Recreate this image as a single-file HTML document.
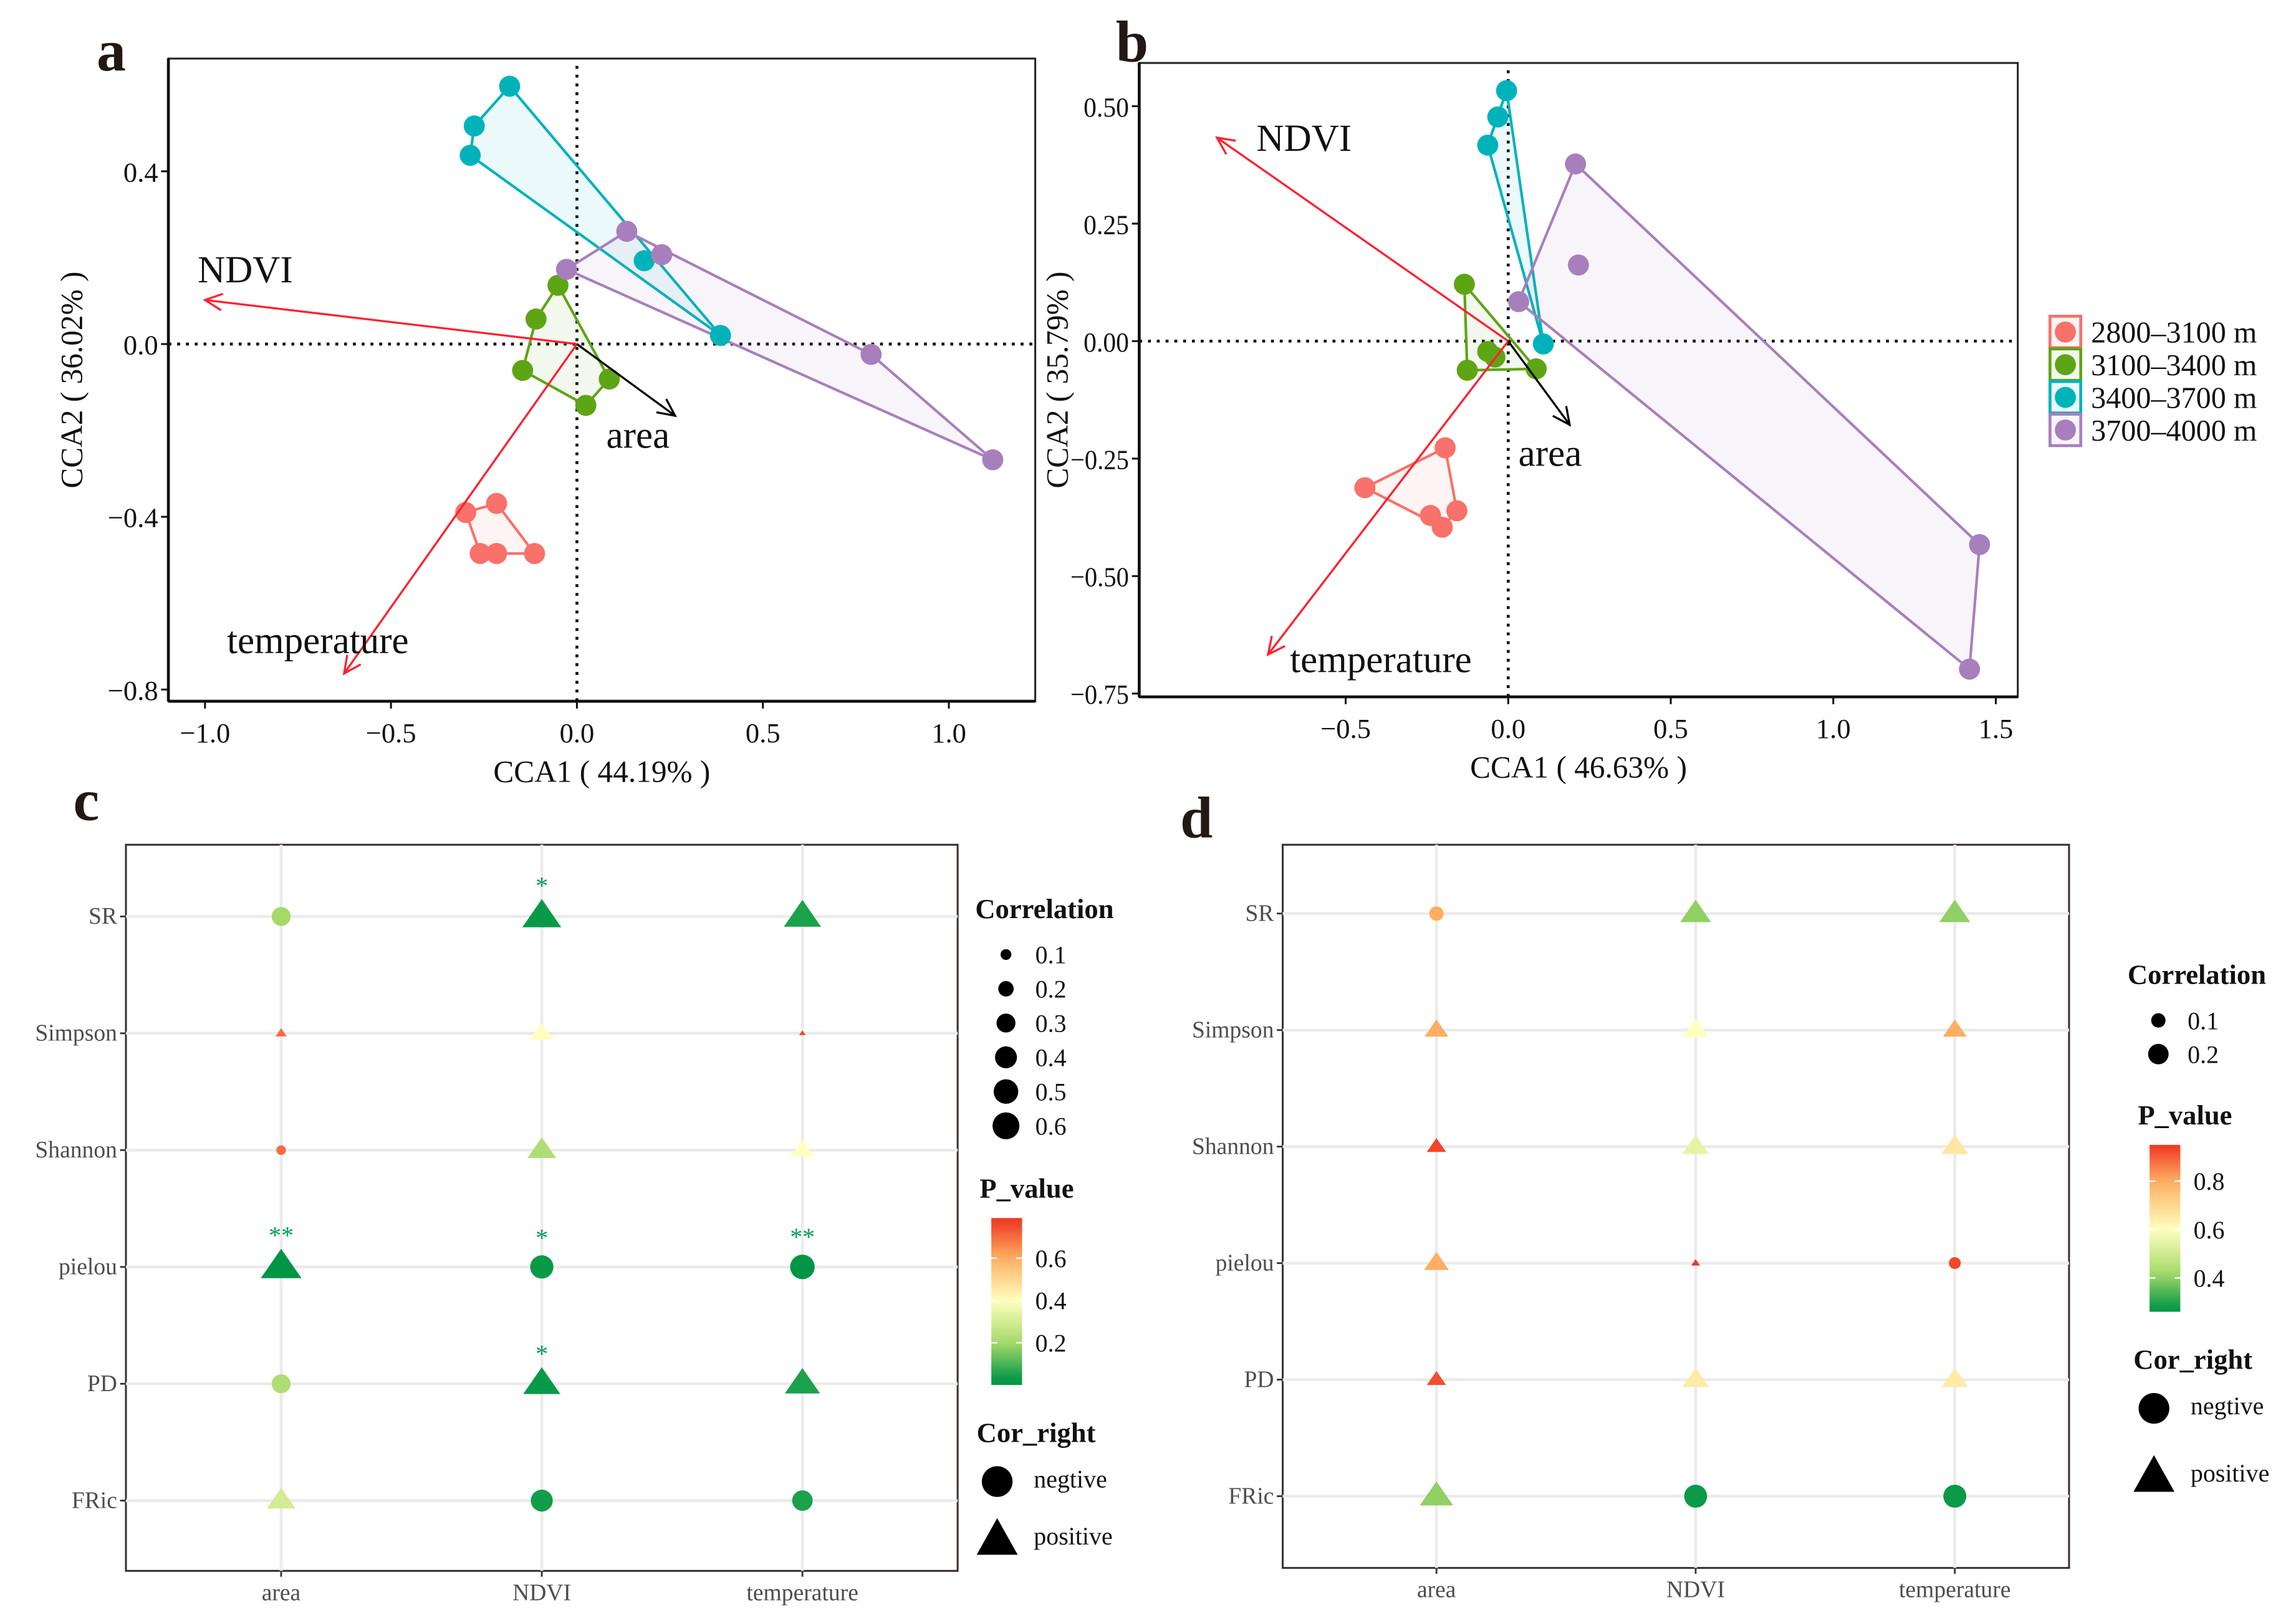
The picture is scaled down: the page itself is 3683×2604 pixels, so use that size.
<!DOCTYPE html>
<html><head><meta charset="utf-8"><style>
html,body{margin:0;padding:0;background:#fff;}
svg{display:block;}
text{font-family:"Liberation Serif",serif;}
</style></head><body>
<svg id="fig" width="3683" height="2604" viewBox="0 0 1568 1108.6" xmlns="http://www.w3.org/2000/svg">
<rect width="1568" height="1108.6" fill="#fff"/>
<g id="layer"></g>
</svg>
<script>
// ---------- Panel a data ----------
const groups = ["2800–3100 m","3100–3400 m","3400–3700 m","3700–4000 m"];
const groupColors = ["#f8716a","#5ea516","#00b3bb","#a87fbd"];
const aRedX = [-0.299,-0.216,-0.260,-0.216,-0.114];
const aRedY = [-0.390,-0.369,-0.485,-0.485,-0.485];
const aGreenX = [-0.051,-0.110,-0.146,0.087,0.024];
const aGreenY = [0.136,0.058,-0.061,-0.081,-0.142];
const aCyanX = [-0.181,-0.276,-0.287,0.181,0.386];
const aCyanY = [0.597,0.505,0.437,0.193,0.020];
const aPurpleX = [-0.028,0.134,0.228,0.791,1.118];
const aPurpleY = [0.173,0.261,0.207,-0.024,-0.268];
const aArrowNames = ["NDVI","temperature","area"];
const aArrowX = [-1.0,-0.626,0.264];
const aArrowY = [0.102,-0.763,-0.166];
const aXTicks = [-1.0,-0.5,0.0,0.5,1.0];
const aXTickLabels = ["−1.0","−0.5","0.0","0.5","1.0"];
const aYTicks = [0.4,0.0,-0.4,-0.8];
const aYTickLabels = ["0.4","0.0","−0.4","−0.8"];
// ---------- Panel b data ----------
const bRedX = [-0.441,-0.194,-0.239,-0.203,-0.158];
const bRedY = [-0.312,-0.227,-0.371,-0.396,-0.361];
const bGreenX = [-0.135,-0.063,-0.041,-0.126,0.086];
const bGreenY = [0.121,-0.022,-0.034,-0.062,-0.059];
const bCyanX = [-0.005,-0.032,-0.063,0.108];
const bCyanY = [0.533,0.477,0.417,-0.006];
const bPurpleX = [0.207,0.216,0.032,1.45,1.419];
const bPurpleY = [0.377,0.162,0.084,-0.433,-0.698];
const bArrowNames = ["NDVI","temperature","area"];
const bArrowX = [-0.896,-0.739,0.189];
const bArrowY = [0.433,-0.667,-0.178];
const bXTicks = [-0.5,0.0,0.5,1.0,1.5];
const bXTickLabels = ["−0.5","0.0","0.5","1.0","1.5"];
const bYTicks = [0.5,0.25,0,-0.25,-0.5,-0.75];
const bYTickLabels = ["0.50","0.25","0.00","−0.25","−0.50","−0.75"];
// ---------- Panel c/d data ----------
const indices = ["SR","Simpson","Shannon","pielou","PD","FRic"];
const envVars = ["area","NDVI","temperature"];
const cCorr = [[0.30,0.55,0.50],[0.05,0.20,0.02],[0.08,0.30,0.20],[0.60,0.45,0.50],[0.30,0.50,0.45],[0.30,0.40,0.35]];
const cP = [[0.20,0.03,0.05],[0.70,0.40,0.76],[0.70,0.22,0.40],[0.005,0.03,0.008],[0.22,0.03,0.05],[0.30,0.04,0.05]];
const cSign = [[-1,1,1],[1,1,1],[-1,1,1],[1,-1,-1],[-1,1,1],[1,-1,-1]];
const cStars = [["","*",""],["","",""],["","",""],["**","*","**"],["","*",""],["","",""]];
const dCorr = [[0.10,0.20,0.20],[0.12,0.15,0.12],[0.08,0.15,0.15],[0.13,0.02,0.07],[0.08,0.15,0.15],[0.23,0.25,0.25]];
const dP = [[0.80,0.40,0.40],[0.80,0.60,0.80],[0.93,0.55,0.66],[0.80,0.95,0.93],[0.92,0.65,0.65],[0.40,0.28,0.28]];
const dSign = [[-1,1,1],[1,1,1],[1,1,1],[1,1,-1],[1,1,1],[1,-1,-1]];
const cSizeTicks = [0.1,0.2,0.3,0.4,0.5,0.6];
const dSizeTicks = [0.1,0.2];
const cPTicks = [0.6,0.4,0.2];
const dPTicks = [0.8,0.6,0.4];

const NS="http://www.w3.org/2000/svg";
const layer=document.getElementById('layer');
function el(tag,attrs,parent,txt){const e=document.createElementNS(NS,tag);for(const k in attrs)e.setAttribute(k,attrs[k]);if(txt!==undefined)e.textContent=txt;(parent||layer).appendChild(e);return e;}
function lin(d0,d1,r0,r1){return v=>r0+(v-d0)*(r1-r0)/(d1-d0);}
function hull(pts){pts=pts.slice().sort((a,b)=>a[0]-b[0]||a[1]-b[1]);const cr=(o,a,b)=>(a[0]-o[0])*(b[1]-o[1])-(a[1]-o[1])*(b[0]-o[0]);const lo=[],up=[];for(const p of pts){while(lo.length>=2&&cr(lo[lo.length-2],lo[lo.length-1],p)<=0)lo.pop();lo.push(p);}for(const p of pts.slice().reverse()){while(up.length>=2&&cr(up[up.length-2],up[up.length-1],p)<=0)up.pop();up.push(p);}return lo.slice(0,-1).concat(up.slice(0,-1));}
function arrowHead(g,x1,y1,x2,y2,color){const a=Math.atan2(y2-y1,x2-x1),L=13,s=0.45;const p1=[x2-L*Math.cos(a-s),y2-L*Math.sin(a-s)],p2=[x2-L*Math.cos(a+s),y2-L*Math.sin(a+s)];const h=el('polyline',{points:`${p1} ${x2},${y2} ${p2}`,fill:'none',stroke:color,'stroke-width':1.4},g);}

function ccaPanel(cfg){
  const g=el('g',{});
  const sx=lin(0,1,cfg.x0,cfg.x0+cfg.kx), sy=lin(0,1,cfg.y0,cfg.y0-cfg.ky);
  const box=el('rect',{x:cfg.L,y:cfg.T,width:cfg.R-cfg.L,height:cfg.B-cfg.T,fill:'none',stroke:'#222','stroke-width':1.3},g);
  
  el('line',{x1:cfg.L,x2:cfg.R,y1:cfg.B,y2:cfg.B,stroke:'#111','stroke-width':2},g);
  el('line',{x1:cfg.L,x2:cfg.L,y1:cfg.T,y2:cfg.B,stroke:'#111','stroke-width':2},g);
  const z1=el('line',{x1:cfg.L,x2:cfg.R,y1:sy(0),y2:sy(0),stroke:'#111','stroke-width':2,'stroke-dasharray':'2 4'},g);
  
  const z2=el('line',{x1:sx(0),x2:sx(0),y1:cfg.T+5,y2:cfg.B,stroke:'#111','stroke-width':2,'stroke-dasharray':'2 4'},g);
  
  cfg.xt.forEach((v,i)=>{el('line',{x1:sx(v),x2:sx(v),y1:cfg.B,y2:cfg.B+5,stroke:'#111','stroke-width':1.3},g);
    const t=el('text',{x:sx(v),y:cfg.B+28,'font-size':19,'text-anchor':'middle',fill:'#111'},g,cfg.xl[i]);});
  cfg.yt.forEach((v,i)=>{el('line',{x1:cfg.L-5,x2:cfg.L,y1:sy(v),y2:sy(v),stroke:'#111','stroke-width':1.3},g);
    const t=el('text',{x:cfg.L-7,y:sy(v)+7,'font-size':19,'text-anchor':'end',fill:'#111'},g,cfg.yl[i]);
    if(cfg.ytl){t.setAttribute('textLength',cfg.ytl(cfg.yl[i]));t.setAttribute('lengthAdjust','spacingAndGlyphs');}
    });
  const xt=el('text',{x:(cfg.L+cfg.R)/2,y:cfg.B+55,'font-size':21,'text-anchor':'middle',fill:'#111'},g,cfg.xtitle);
  const yt=el('text',{x:0,y:0,'font-size':21,'text-anchor':'middle',fill:'#111',transform:`translate(${cfg.ytx},${(cfg.T+cfg.B)/2}) rotate(-90)`},g,cfg.ytitle);
  const lt=el('text',{x:cfg.letter[1],y:cfg.letter[2],'font-size':40,'font-weight':'bold',fill:'#231815'},g,cfg.letter[0]);
  cfg.groups.forEach((gr,gi)=>{
    const pts=gr[0].map((x,i)=>[sx(x),sy(gr[1][i])]);
    const h=hull(pts);
    const poly=el('polygon',{points:h.map(p=>p.join(',')).join(' '),fill:groupColors[gi],'fill-opacity':0.08,stroke:groupColors[gi],'stroke-width':1.8},g);
    
  });
  cfg.groups.forEach((gr,gi)=>{
    gr[0].forEach((x,i)=>{const c=el('circle',{cx:sx(x),cy:sy(gr[1][i]),r:7.2,fill:groupColors[gi]},g);
      });
  });
  cfg.arrows.forEach((a,i)=>{
    const col=a[0]==='area'?'#000':'#ff2030';
    const x1=sx(0),y1=sy(0),x2=sx(a[1]),y2=sy(a[2]);
    const ln=el('line',{x1,y1,x2,y2,stroke:col,'stroke-width':1.4},g);
    arrowHead(g,x1,y1,x2,y2,col);
    const lab=el('text',{x:x2+cfg.lab[i][0],y:y2+cfg.lab[i][1],'font-size':26,fill:'#111'},g,a[0]);
    
  });
}
ccaPanel({name:'panel-a',L:115,R:707,T:40,B:479,x0:394,kx:254,y0:235,ky:295,xt:aXTicks,xl:aXTickLabels,yt:aYTicks,yl:aYTickLabels,
  xtitle:'CCA1 ( 44.19% )',ytitle:'CCA2 ( 36.02% )',ytx:56,letter:['a',66,48],
  groups:[[aRedX,aRedY],[aGreenX,aGreenY],[aCyanX,aCyanY],[aPurpleX,aPurpleY]],
  arrows:aArrowNames.map((n,i)=>[n,aArrowX[i],aArrowY[i]]),lab:[[-5,-12],[-80,-14],[-47,22]]});
ccaPanel({name:'panel-b',L:778,R:1378,T:43,B:476,x0:1030,kx:222,y0:233,ky:321,xt:bXTicks,xl:bXTickLabels,yt:bYTicks,yl:bYTickLabels,
  ytl:s=>s.length>4?40:31,
  xtitle:'CCA1 ( 46.63% )',ytitle:'CCA2 ( 35.79% )',ytx:729,letter:['b',762,42],
  groups:[[bRedX,bRedY],[bGreenX,bGreenY],[bCyanX,bCyanY],[bPurpleX,bPurpleY]],
  arrows:bArrowNames.map((n,i)=>[n,bArrowX[i],bArrowY[i]]),lab:[[27,9],[15,12],[-35,28]]});
(function(){const g=el('g',{});
  groups.forEach((n,i)=>{const y=216+i*22.3;
    el('rect',{x:1400,y:y,width:21,height:21.5,fill:groupColors[i],'fill-opacity':0.08,stroke:groupColors[i],'stroke-width':2},g);
    const c=el('circle',{cx:1410.5,cy:y+10.8,r:7.2,fill:groupColors[i]},g);
    const t=el('text',{x:1428,y:y+18,'font-size':20.5,fill:'#111'},g,n);});
})();

// ---------- correlation panels ----------
const palette=[[0,150,70],[166,217,106],[255,255,191],[253,174,97],[240,55,35]];
function pColorStops(stops){
  return p=>{if(p<=stops[0])return `rgb(${palette[0]})`;
    for(let i=1;i<stops.length;i++){if(p<=stops[i]){const t=(p-stops[i-1])/(stops[i]-stops[i-1]);const a=palette[i-1],b=palette[i];return `rgb(${a.map((v,k)=>Math.round(v+(b[k]-v)*t)).join(',')})`;}}
    return `rgb(${palette[4]})`;};
}
function marker(g,x,y,r,sign,fill){
  if(sign<0){return el('circle',{cx:x,cy:y,r:r,fill:fill},g);}
  const s=r*1.35;return el('polygon',{points:`${x},${y-s} ${x-s*1.12},${y+s*0.62} ${x+s*1.12},${y+s*0.62}`,fill:fill},g);
}
function corrPanel(cfg){
  const g=el('g',{});
  const rr=v=>Math.sqrt(cfg.rmin*cfg.rmin+(cfg.rmax*cfg.rmax-cfg.rmin*cfg.rmin)*Math.max(0,(v-cfg.vmin)/(cfg.vmax-cfg.vmin)));
  const pc=pColorStops(cfg.stops);
  const colX=i=>cfg.cx0+i*cfg.cdx, rowY=i=>cfg.ry0+i*cfg.rdy;
  el('rect',{x:cfg.L,y:cfg.T,width:cfg.R-cfg.L,height:cfg.B-cfg.T,fill:'#fff',stroke:'#3a3030','stroke-width':1.3},g);
  envVars.forEach((v,i)=>{el('line',{x1:colX(i),x2:colX(i),y1:cfg.T,y2:cfg.B,stroke:'#ebebeb','stroke-width':2},g);
    el('line',{x1:colX(i),x2:colX(i),y1:cfg.B,y2:cfg.B+4,stroke:'#333','stroke-width':1.2},g);
    const t=el('text',{x:colX(i),y:cfg.B+20,'font-size':16,'text-anchor':'middle',fill:'#4d4d4d'},g,v);});
  indices.forEach((v,i)=>{el('line',{x1:cfg.L,x2:cfg.R,y1:rowY(i),y2:rowY(i),stroke:'#ebebeb','stroke-width':2},g);
    el('line',{x1:cfg.L-4,x2:cfg.L,y1:rowY(i),y2:rowY(i),stroke:'#333','stroke-width':1.2},g);
    const t=el('text',{x:cfg.L-6,y:rowY(i)+5,'font-size':16,'text-anchor':'end',fill:'#4d4d4d'},g,v);});
  indices.forEach((ix,i)=>envVars.forEach((ev,j)=>{
    const m=marker(g,colX(j),rowY(i),rr(cfg.corr[i][j]),cfg.sign[i][j],pc(cfg.p[i][j]));
    
    if(cfg.stars&&cfg.stars[i][j]){const s=el('text',{x:colX(j),y:rowY(i)-rr(cfg.corr[i][j])*1.4-3,'font-size':17,'text-anchor':'middle',fill:'#00a050'},g,cfg.stars[i][j]);}
  }));
  const lt=el('text',{x:cfg.letter[1],y:cfg.letter[2],'font-size':40,'font-weight':'bold',fill:'#231815'},g,cfg.letter[0]);
  const lg=el('g',{},g);
  el('text',{x:cfg.lx,y:cfg.ly,'font-size':19,'font-weight':'bold',fill:'#111'},lg,'Correlation');
  cfg.sizeTicks.forEach((v,i)=>{const y=cfg.ly+25+i*cfg.sdy;el('circle',{cx:cfg.lx+21,cy:y,r:rr(v),fill:'#000'},lg);
    const t=el('text',{x:cfg.lx+41,y:y+6,'font-size':17,fill:'#111'},lg,v.toFixed(1));});
  const pg=el('g',{},g);
  el('text',{x:cfg.px,y:cfg.py,'font-size':19,'font-weight':'bold',fill:'#111'},pg,'P_value');
  const gid='grad-'+cfg.name;const defs=el('defs',{},pg);const lgd=el('linearGradient',{id:gid,x1:0,y1:1,x2:0,y2:0},defs);
  for(let k=0;k<=20;k++){const p=cfg.pmin+(cfg.pmax-cfg.pmin)*k/20;el('stop',{offset:k/20,'stop-color':pc(p)},lgd);}
  const bT=cfg.py+14,bB=cfg.py+14+cfg.bh;
  el('rect',{x:cfg.px+8,y:bT,width:21,height:cfg.bh,fill:`url(#${gid})`},pg);
  const by=lin(cfg.pmin,cfg.pmax,bB,bT);
  cfg.pTicks.forEach(v=>{el('line',{x1:cfg.px+8,x2:cfg.px+12,y1:by(v),y2:by(v),stroke:'#fff','stroke-width':1},pg);el('line',{x1:cfg.px+25,x2:cfg.px+29,y1:by(v),y2:by(v),stroke:'#fff','stroke-width':1},pg);
    el('text',{x:cfg.px+38,y:by(v)+6,'font-size':17,fill:'#111'},pg,v.toFixed(1));});
  const sg=el('g',{},g);
  el('text',{x:cfg.sx,y:cfg.sy,'font-size':19,'font-weight':'bold',fill:'#111'},sg,'Cor_right');
  el('circle',{cx:cfg.sx+14,cy:cfg.sy+27,r:10.5,fill:'#000'},sg);
  el('text',{x:cfg.sx+39,y:cfg.sy+31,'font-size':17,fill:'#111'},sg,'negtive');
  const ty=cfg.sy+27+cfg.tdy;
  el('polygon',{points:`${cfg.sx+14},${ty-15} ${cfg.sx},${ty+10} ${cfg.sx+28},${ty+10}`,fill:'#000'},sg);
  el('text',{x:cfg.sx+39,y:ty+3,'font-size':17,fill:'#111'},sg,'positive');
}
corrPanel({name:'panel-c',L:86,R:654,T:577,B:1073,cx0:192,cdx:178,ry0:626,rdy:79.8,corr:cCorr,p:cP,sign:cSign,stars:cStars,
  rmin:1.5,rmax:9.5,vmin:0.02,vmax:0.64,pmin:0,pmax:0.79,stops:[0.02,0.2,0.4,0.6,0.78],letter:['c',50,560],
  lx:666,ly:627,sdy:23.4,sizeTicks:cSizeTicks,px:669,py:818,bh:114,pTicks:cPTicks,sx:667,sy:985,tdy:40});
corrPanel({name:'panel-d',L:876,R:1413,T:577,B:1071,cx0:981,cdx:177,ry0:624,rdy:79.6,corr:dCorr,p:dP,sign:dSign,stars:null,
  rmin:2,rmax:8,vmin:0.02,vmax:0.26,pmin:0.26,pmax:0.95,stops:[0.27,0.42,0.6,0.8,0.95],letter:['d',806,572],
  lx:1453,ly:672,sdy:23,sizeTicks:dSizeTicks,px:1460,py:768,bh:114,pTicks:dPTicks,sx:1457,sy:935,tdy:47});
</script>
</body></html>
